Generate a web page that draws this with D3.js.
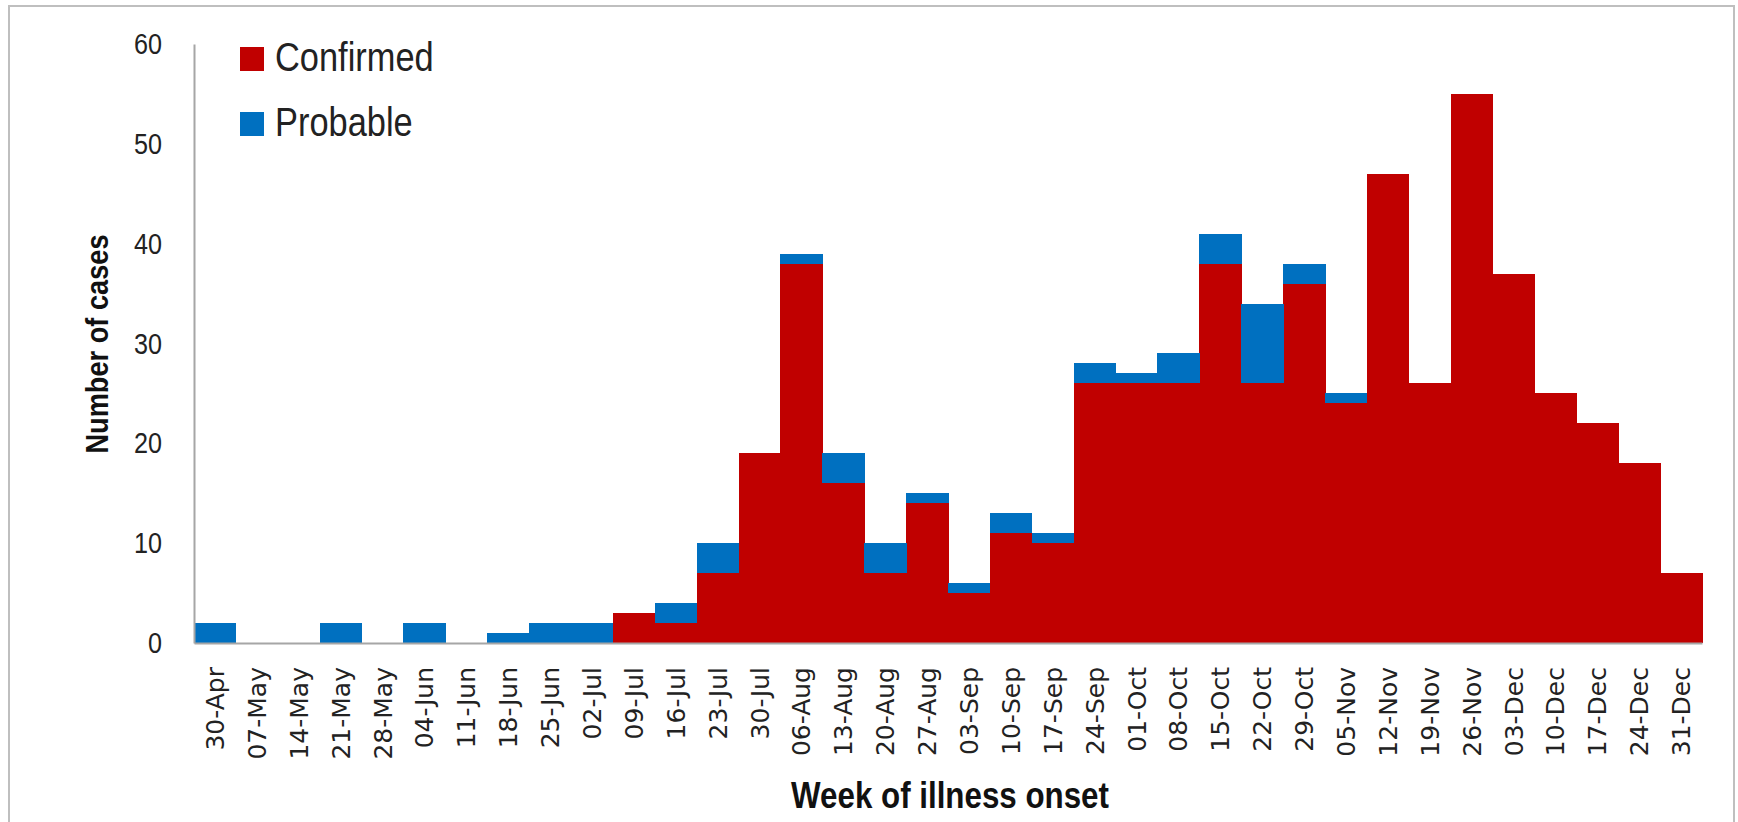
<!DOCTYPE html>
<html><head><meta charset="utf-8">
<script src="https://cdn.jsdelivr.net/npm/d3@7"></script>
<style>html,body{margin:0;padding:0;background:#fff;overflow:hidden}</style>
</head><body>
<svg id="chart" width="1738" height="822"></svg>
<script>
// ---- data ----
const weeks = ["30-Apr","07-May","14-May","21-May","28-May","04-Jun","11-Jun","18-Jun","25-Jun","02-Jul",
  "09-Jul","16-Jul","23-Jul","30-Jul","06-Aug","13-Aug","20-Aug","27-Aug","03-Sep","10-Sep","17-Sep",
  "24-Sep","01-Oct","08-Oct","15-Oct","22-Oct","29-Oct","05-Nov","12-Nov","19-Nov","26-Nov",
  "03-Dec","10-Dec","17-Dec","24-Dec","31-Dec"];
const confirmed = [0,0,0,0,0,0,0,0,0,0,
  3,2,7,19,38,16,7,14,5,11,10,
  26,26,26,38,26,36,24,47,26,55,
  37,25,22,18,7];
const probable = [2,0,0,2,0,2,0,1,2,2,
  0,2,3,0,1,3,3,1,1,2,1,
  2,1,3,3,8,2,1,0,0,0,
  0,0,0,0,0];
const seriesNames = ["Confirmed","Probable"];
const seriesColors = ["#C00000","#0070C0"];
const yTicks = [0,10,20,30,40,50,60];
const yTitle = "Number of cases";
const xTitle = "Week of illness onset";

// ---- layout ----
const font = "'Liberation Sans',Arial,sans-serif";
const svg = d3.select("#chart");
const plot = {left:194, right:1702, top:44, bottom:643};

// frame
svg.append("rect").attr("x",9).attr("y",6).attr("width",1725).attr("height",830)
  .attr("fill","#fff").attr("stroke","#bfbfbf").attr("stroke-width",2);

const x = d3.scaleBand().domain(weeks).range([plot.left, plot.right]).padding(0);
const y = d3.scaleLinear().domain([0,60]).range([plot.bottom, plot.top]);

const rows = weeks.map((w,i)=>({week:w, Confirmed:confirmed[i], Probable:probable[i]}));
const stacked = d3.stack().keys(seriesNames)(rows);

svg.append("g").selectAll("g").data(stacked).join("g")
  .attr("fill",(d,i)=>seriesColors[i])
  .selectAll("rect").data(d=>d).join("rect")
  .attr("x",d=>x(d.data.week))
  .attr("width",x.bandwidth()+0.5)
  .attr("y",d=>y(d[1]))
  .attr("height",d=>y(d[0])-y(d[1]))
  .attr("shape-rendering","crispEdges");

// y axis
const yAxis = svg.append("g").attr("transform",`translate(${plot.left},0)`)
  .call(d3.axisLeft(y).tickValues(yTicks).tickSize(0).tickPadding(38));
yAxis.select(".domain").attr("stroke","#a6a6a6").attr("stroke-width",2);
yAxis.selectAll("text").attr("font-family",font).attr("font-size",30).attr("fill","#222")
  .attr("transform","scale(0.84,1)");

// x axis
const xAxis = svg.append("g").attr("transform",`translate(0,${plot.bottom})`)
  .call(d3.axisBottom(x).tickSize(0).tickPadding(0));
xAxis.select(".domain").attr("stroke","#a6a6a6").attr("stroke-width",2);
xAxis.selectAll("text")
  .attr("font-family","'DejaVu Sans',Verdana,sans-serif").attr("font-size",25).attr("fill","#222")
  .attr("text-anchor","end")
  .attr("transform","rotate(-90)")
  .attr("x",-24).attr("y",0).attr("dy","0.36em");

// axis titles (compressed horizontally to mimic a condensed face)
svg.append("g").attr("transform","translate(108,344) rotate(-90) scale(0.85,1)")
  .append("text").attr("text-anchor","middle").attr("font-family",font).attr("font-weight","bold")
  .attr("font-size",32).attr("fill","#111").text(yTitle);
svg.append("g").attr("transform","translate(950,808) scale(0.87,1)")
  .append("text").attr("text-anchor","middle").attr("font-family",font).attr("font-weight","bold")
  .attr("font-size",36).attr("fill","#111").text(xTitle);

// legend
const lg = svg.append("g");
seriesNames.forEach((n,i)=>{
  const yy = 47 + i*65;
  lg.append("rect").attr("x",240).attr("y",yy).attr("width",24).attr("height",24).attr("fill",seriesColors[i]);
  lg.append("g").attr("transform",`translate(275,${yy+24}) scale(0.86,1)`)
    .append("text").attr("font-family",font)
    .attr("font-size",40).attr("fill","#222").text(n);
});
</script>
</body></html>
